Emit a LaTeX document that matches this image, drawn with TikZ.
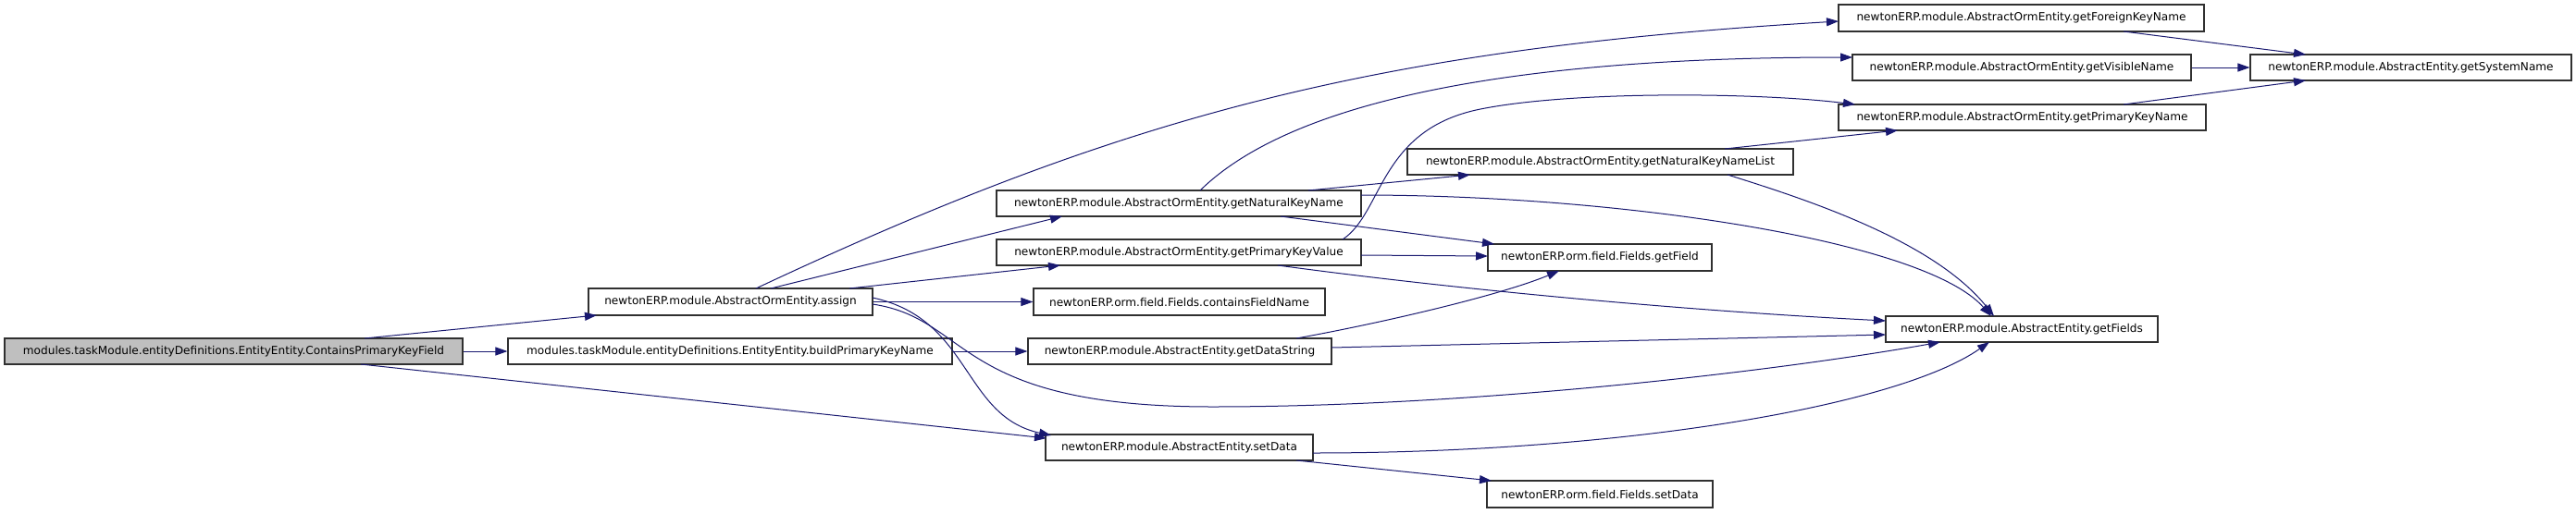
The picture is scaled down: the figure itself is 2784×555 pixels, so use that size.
\documentclass[tikz,border=0pt]{standalone}
\usepackage{fontspec}
\setmainfont{DejaVu Sans}
\usetikzlibrary{arrows.meta}
\definecolor{edgecol}{HTML}{191970}
\definecolor{rootfill}{HTML}{BFBFBF}
\definecolor{boxline}{HTML}{303030}
\begin{document}
\begin{tikzpicture}[x=1pt,y=-1pt,
  fn/.style={draw=boxline,line width=1.1pt,fill=white,inner sep=0pt,
    font=\fontsize{12.1}{14}\selectfont},
  rootfn/.style={fn,fill=rootfill},
  call/.style={draw=edgecol,line width=1.0pt,-{Triangle[length=13pt,width=9pt]},fill=none}]
\fill[white] (0,0) rectangle (2784,555);
\useasboundingbox (0,0) rectangle (2784,555);
% nodes
\node[rootfn,minimum width=495pt,minimum height=28pt] (root) at (252.5,380) {modules.taskModule.entityDefinitions.EntityEntity.ContainsPrimaryKeyField};
\node[fn,minimum width=307pt,minimum height=29pt] (assign) at (789.5,326.5) {newtonERP.module.AbstractOrmEntity.assign};
\node[fn,minimum width=480pt,minimum height=28pt] (build) at (789,380) {modules.taskModule.entityDefinitions.EntityEntity.buildPrimaryKeyName};
\node[fn,minimum width=394pt,minimum height=28pt] (gnkn) at (1274,220) {newtonERP.module.AbstractOrmEntity.getNaturalKeyName};
\node[fn,minimum width=394pt,minimum height=28pt] (gpkv) at (1274,273) {newtonERP.module.AbstractOrmEntity.getPrimaryKeyValue};
\node[fn,minimum width=315pt,minimum height=29pt] (cfn) at (1274.5,326.5) {newtonERP.orm.field.Fields.containsFieldName};
\node[fn,minimum width=328pt,minimum height=28pt] (gds) at (1275,380) {newtonERP.module.AbstractEntity.getDataString};
\node[fn,minimum width=289pt,minimum height=28pt] (sd) at (1274.5,484) {newtonERP.module.AbstractEntity.setData};
\node[fn,minimum width=242pt,minimum height=29pt] (gf) at (1729,278.5) {newtonERP.orm.field.Fields.getField};
\node[fn,minimum width=244pt,minimum height=29pt] (fsd) at (1729,534.5) {newtonERP.orm.field.Fields.setData};
\node[fn,minimum width=417pt,minimum height=28pt] (gnknl) at (1729.5,175) {newtonERP.module.AbstractOrmEntity.getNaturalKeyNameList};
\node[fn,minimum width=395pt,minimum height=29pt] (gfkn) at (2184.5,19.5) {newtonERP.module.AbstractOrmEntity.getForeignKeyName};
\node[fn,minimum width=366pt,minimum height=28pt] (gvn) at (2185,73) {newtonERP.module.AbstractOrmEntity.getVisibleName};
\node[fn,minimum width=397pt,minimum height=28pt] (gpkn) at (2185.5,127) {newtonERP.module.AbstractOrmEntity.getPrimaryKeyName};
\node[fn,minimum width=347pt,minimum height=28pt] (gsn) at (2605.5,73) {newtonERP.module.AbstractEntity.getSystemName};
\node[fn,minimum width=294pt,minimum height=28pt] (gfs) at (2185,356) {newtonERP.module.AbstractEntity.getFields};
% edges
\draw[call] ([shift={(141.5,-14)}]root.center) -- ([shift={(-144.5,14.5)}]assign.center);
\draw[call] (root.east) -- (build.west);
\draw[call] ([shift={(137.5,14)}]root.center) -- ([shift={(-143.5,-10)}]sd.center);
\draw[call] (build.east) -- (gds.west);
\draw[call] ([shift={(27.5,-14.5)}]assign.center) .. controls (1217,124) and (1487,53) .. ([shift={(-197.5,3.5)}]gfkn.center);
\draw[call] ([shift={(43.5,-14.5)}]assign.center) -- ([shift={(-126,14)}]gnkn.center);
\draw[call] ([shift={(128.5,-14.5)}]assign.center) -- ([shift={(-128,14)}]gpkv.center);
\draw[call] (assign.east) -- (cfn.west);
\draw[call] ([shift={(153.5,-4.5)}]assign.center) .. controls (1050,345) and (1040,450) .. ([shift={(-138.5,-13)}]sd.center);
\draw[call] ([shift={(153.5,2.5)}]assign.center) .. controls (1050,345) and (1030,440) .. (1310,440) .. controls (1600,440) and (1930,400) .. ([shift={(-88,14)}]gfs.center);
\draw[call] ([shift={(140,-14)}]gnkn.center) -- ([shift={(-140.5,14)}]gnknl.center);
\draw[call] ([shift={(23,-14)}]gnkn.center) .. controls (1400,105) and (1650,62) .. ([shift={(-183,-11)}]gvn.center);
\draw[call] ([shift={(110,14)}]gnkn.center) -- ([shift={(-114,-14.5)}]gf.center);
\draw[call] ([shift={(197,-9)}]gnkn.center) .. controls (1750,211) and (2080,260) .. ([shift={(-33,-14)}]gfs.center);
\draw[call] ([shift={(177,-14)}]gpkv.center) .. controls (1495,230) and (1490,140) .. (1600,118) .. controls (1700,98) and (1900,100) .. ([shift={(-180.5,-14)}]gpkn.center);
\draw[call] ([shift={(197,3)}]gpkv.center) -- ([shift={(-121,-1.5)}]gf.center);
\draw[call] ([shift={(107,14)}]gpkv.center) .. controls (1550,310) and (1800,335) .. ([shift={(-147,-9)}]gfs.center);
\draw[call] ([shift={(126,-14)}]gds.center) .. controls (1490,350) and (1620,320) .. ([shift={(-44,14.5)}]gf.center);
\draw[call] ([shift={(164,-4)}]gds.center) -- ([shift={(-147,6)}]gfs.center);
\draw[call] ([shift={(126.5,14)}]sd.center) -- ([shift={(-117,-14.5)}]fsd.center);
\draw[call] ([shift={(144.5,6)}]sd.center) .. controls (1750,490) and (2050,440) .. ([shift={(-35,14)}]gfs.center);
\draw[call] ([shift={(134.5,-14)}]gnknl.center) -- ([shift={(-134.5,14)}]gpkn.center);
\draw[call] ([shift={(137.5,14)}]gnknl.center) .. controls (1950,215) and (2090,260) .. ([shift={(-30,-14)}]gfs.center);
\draw[call] ([shift={(110.5,14.5)}]gfkn.center) -- ([shift={(-113.5,-14)}]gsn.center);
\draw[call] (gvn.east) -- (gsn.west);
\draw[call] ([shift={(109.5,-14)}]gpkn.center) -- ([shift={(-113.5,14)}]gsn.center);
\end{tikzpicture}
\end{document}
